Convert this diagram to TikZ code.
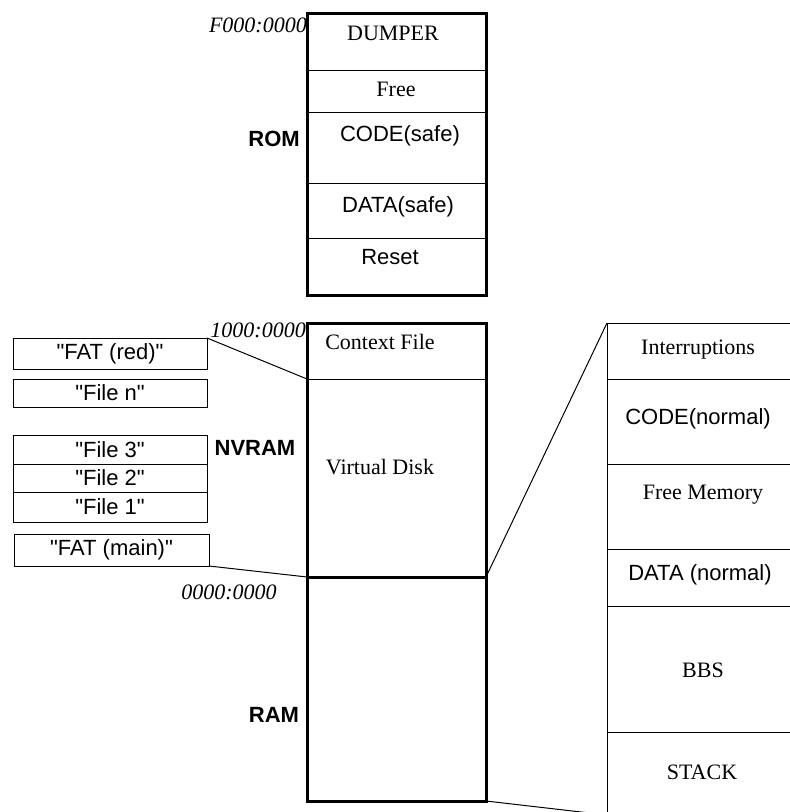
\documentclass[tikz,border=0pt]{standalone}
\usepackage{fontspec}
\setmainfont{Liberation Serif}
\setsansfont{Liberation Sans}
\usetikzlibrary{positioning}
\newcommand{\fname}[1]{\textquotedbl#1\textquotedbl}
\tikzset{%
   % one slot of a memory map: thin frame, no text
   cell/.style={
      draw,
      line width=1pt,
      inner sep=0pt,
      outer sep=0pt,
      minimum width=179pt
   },
   zoomcell/.style={
      cell,
      minimum width=184pt
   },
   file/.style={
      draw,
      line width=1pt,
      inner sep=0pt,
      outer sep=0pt,
      minimum width=194pt,
      font=\sffamily\fontsize{22}{26}\selectfont
   },
   memframe/.style={
      line width=3pt
   },
   zoomline/.style={
      line width=1pt
   },
   serif/.style={font=\rmfamily\fontsize{22}{26}\selectfont, inner sep=0pt},
   sans/.style={font=\sffamily\fontsize{22}{26}\selectfont, inner sep=0pt},
   addr/.style={font=\rmfamily\itshape\fontsize{22}{26}\selectfont, inner sep=0pt},
   region/.style={font=\sffamily\bfseries\fontsize{22}{26}\selectfont, inner sep=0pt},
}

\begin{document}
\begin{tikzpicture}[x=1pt, y=-1pt]
    \clip (0,0) rectangle (790,812);
    % ROM
    \node[cell, minimum height=57pt] (dumper) at (396.5,41.5) {};
    \node[cell, minimum height=42pt] (free) at (396.5,91) {};
    \node[cell, minimum height=71pt] (codesafe) at (396.5,147.5) {};
    \node[cell, minimum height=55pt] (datasafe) at (396.5,210.5) {};
    \node[cell, minimum height=57pt] (reset) at (396.5,266.5) {};
    \draw[memframe] (dumper.north west) rectangle (reset.south east);
    \node[serif] (tdumper) at (393,33) {DUMPER};
    \node[serif] (tfree) at (396,89) {Free};
    \node[sans] (tcodesafe) at (400,136) {CODE(safe)};
    \node[sans] (tdatasafe) at (398,207) {DATA(safe)};
    \node[sans] (treset) at (390,257) {Reset};
    \node[addr, anchor=east] (romaddr) at (307,25) {F000:0000};
    \node[region, anchor=east] (rom) at (300,139) {ROM};
    % NVRAM and RAM
    \node[cell, minimum height=56pt] (ctx) at (396.5,351) {};
    \node[cell, minimum height=198pt] (vdisk) at (396.5,478) {};
    \node[cell, minimum height=224pt] (ram) at (396.5,689) {};
    \draw[memframe] (ctx.north west) rectangle (ram.south east);
    \draw[memframe] (vdisk.south west) -- (vdisk.south east);
    \node[serif] (tctx) at (380,342) {Context File};
    \node[serif] (tvdisk) at (380,467) {Virtual Disk};
    \node[addr, anchor=east] (nvaddr) at (306,330) {1000:0000};
    \node[addr] (ramaddr) at (229,592) {0000:0000};
    \node[region] (nvram) at (255,448) {NVRAM};
    \node[region] (ramlbl) at (274,715) {RAM};
    % files on the virtual disk
    \node[file, minimum height=31pt] (fatred) at (110,353.5) {\fname{FAT (red)}};
    \node[file, minimum height=28pt] (filen) at (110,393) {\fname{File n}};
    \node[file, minimum height=29pt] (file3) at (110,449.5) {\fname{File 3}};
    \node[file, minimum height=28pt] (file2) at (110,478) {\fname{File 2}};
    \node[file, minimum height=30pt] (file1) at (110,507) {\fname{File 1}};
    \node[file, minimum height=32pt, minimum width=195pt] (fatmain) at (111.5,550) {\fname{FAT (main)}};
    % RAM in detail
    \node[zoomcell, minimum height=56pt] (intr) at (699,351) {};
    \node[zoomcell, minimum height=85pt] (codenorm) at (699,421.5) {};
    \node[zoomcell, minimum height=85pt] (freemem) at (699,506.5) {};
    \node[zoomcell, minimum height=57pt] (datanorm) at (699,577.5) {};
    \node[zoomcell, minimum height=126pt] (bbs) at (699,669) {};
    \node[zoomcell, minimum height=83pt] (stack) at (699,773.5) {};
    \node[serif] (tintr) at (698,350) {Interruptions};
    \node[sans] (tcodenorm) at (698,419) {CODE(normal)};
    \node[serif] (tfreemem) at (703,494.5) {Free Memory};
    \node[sans] (tdatanorm) at (700,575) {DATA (normal)};
    \node[serif] (tbbs) at (703,670) {BBS};
    \node[serif] (tstack) at (702,772) {STACK};
    % zoom lines
    \draw[zoomline] (fatred.north east) -- (ctx.south west);
    \draw[zoomline] (fatmain.south east) -- (vdisk.south west);
    \draw[zoomline] (intr.north west) -- (vdisk.south east);
    \draw[zoomline] (ram.south east) -- (stack.south west);
\end{tikzpicture}
\end{document}
